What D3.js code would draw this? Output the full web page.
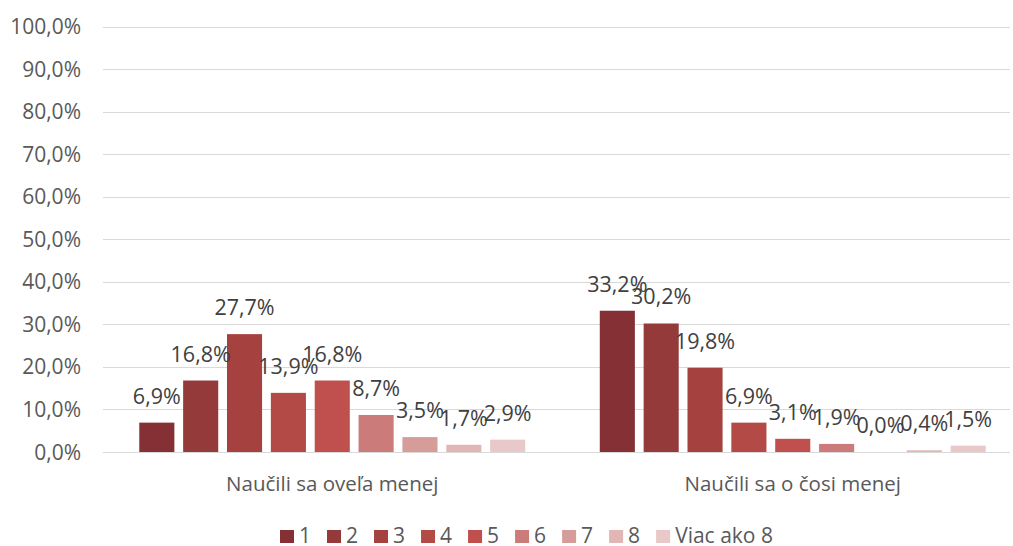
<!DOCTYPE html>
<html>
<head>
<meta charset="utf-8">
<script src="https://cdn.jsdelivr.net/npm/d3@7"></script>
<style>
  body { margin: 0; background: #fff; }
  text { font-family: "Open Sans", sans-serif; }
</style>
</head>
<body>
<div id="chart"></div>
<script>
var categories = ["Naučili sa oveľa menej", "Naučili sa o čosi menej"];
var series = ["1", "2", "3", "4", "5", "6", "7", "8", "Viac ako 8"];
var valuesOvela = [6.9, 16.8, 27.7, 13.9, 16.8, 8.7, 3.5, 1.7, 2.9];
var valuesCosi = [33.2, 30.2, 19.8, 6.9, 3.1, 1.9, 0.0, 0.4, 1.5];
var yTicks = [0, 10, 20, 30, 40, 50, 60, 70, 80, 90, 100];
var colors = ["#843034", "#953a3a", "#a5423f", "#b44a46", "#c0504d", "#cb7c7a", "#d69c9a", "#e3b6b6", "#e8c8c8"];

var w = 1013;
var h = 546;

var fmt = function(v) { return v.toFixed(1).replace(".", ",") + "%"; };

var svg = d3.select("#chart")
  .append("svg")
  .attr("width", w)
  .attr("height", h);

var x0 = d3.scaleBand()
  .domain(categories)
  .range([102, 1023]);

var x1 = d3.scaleBand()
  .domain(series)
  .range([0, x0.bandwidth()])
  .paddingInner(0.2)
  .paddingOuter(0.85);

var y = d3.scaleLinear()
  .domain([0, 100])
  .range([452, 26.5]);

var color = d3.scaleOrdinal().domain(series).range(colors);

// gridlines
svg.append("g")
  .selectAll("line")
  .data(yTicks)
  .enter()
  .append("line")
  .attr("x1", 103)
  .attr("x2", 1010)
  .attr("y1", function(d) { return Math.round(y(d)) + 0.5; })
  .attr("y2", function(d) { return Math.round(y(d)) + 0.5; })
  .attr("stroke", "#d9d9d9")
  .attr("stroke-width", 1);

// y labels
svg.append("g")
  .selectAll("text")
  .data(yTicks)
  .enter()
  .append("text")
  .attr("x", 81)
  .attr("y", function(d) { return y(d); })
  .attr("dy", "0.36em")
  .attr("text-anchor", "end")
  .attr("font-size", 21)
  .attr("fill", "#595959")
  .text(function(d) { return fmt(d); });

var rows = [valuesOvela, valuesCosi];

var groups = svg.selectAll("g.grp")
  .data(categories)
  .enter()
  .append("g")
  .attr("class", "grp")
  .attr("transform", function(d) { return "translate(" + x0(d) + ",0)"; });

groups.selectAll("rect")
  .data(function(d, i) { return series.map(function(s, j) { return {s: s, v: rows[i][j]}; }); })
  .enter()
  .append("rect")
  .attr("x", function(d) { return x1(d.s); })
  .attr("y", function(d) { return y(d.v); })
  .attr("width", x1.bandwidth())
  .attr("height", function(d) { return y(0) - y(d.v); })
  .attr("fill", function(d) { return color(d.s); });

groups.selectAll("text.val")
  .data(function(d, i) { return series.map(function(s, j) { return {s: s, v: rows[i][j]}; }); })
  .enter()
  .append("text")
  .attr("class", "val")
  .attr("x", function(d) { return x1(d.s) + x1.bandwidth() / 2; })
  .attr("y", function(d) { return y(d.v) - 19; })
  .attr("text-anchor", "middle")
  .attr("font-size", 21.5)
  .attr("fill", "#404040")
  .text(function(d) { return fmt(d.v); });

// category labels
svg.append("g")
  .selectAll("text")
  .data(categories)
  .enter()
  .append("text")
  .attr("x", function(d) { return x0(d) + x0.bandwidth() / 2; })
  .attr("y", 491)
  .attr("text-anchor", "middle")
  .attr("font-size", 20.5)
  .attr("fill", "#595959")
  .text(function(d) { return d; });

// legend
var legend = svg.append("g");
var lx = 280;
series.forEach(function(s) {
  legend.append("rect")
    .attr("x", lx)
    .attr("y", 530)
    .attr("width", 14)
    .attr("height", 13)
    .attr("fill", color(s));
  var t = legend.append("text")
    .attr("x", lx + 19)
    .attr("y", 543)
    .attr("font-size", 21)
    .attr("fill", "#595959")
    .text(s);
  lx += 19 + t.node().getComputedTextLength() + 16;
});
</script>
</body>
</html>
